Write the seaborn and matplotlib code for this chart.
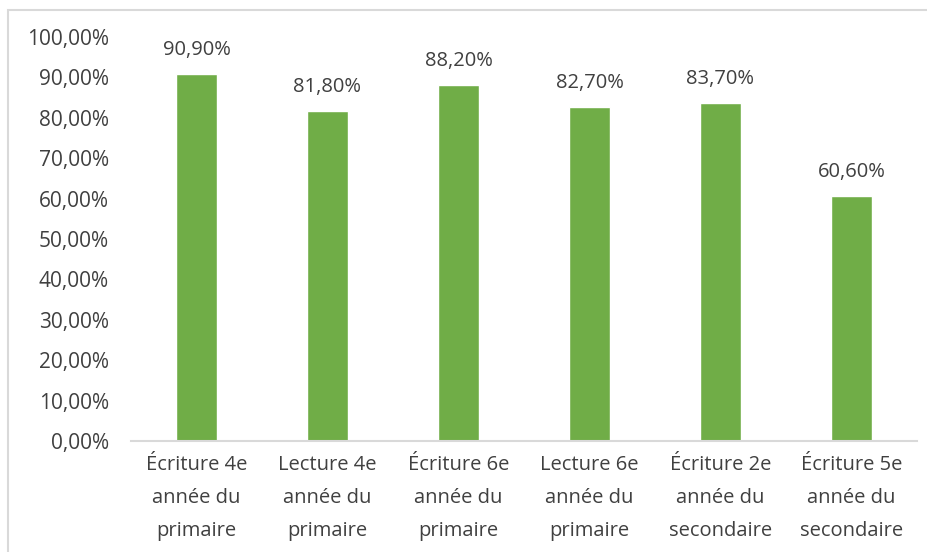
import matplotlib
matplotlib.use("Agg")
import matplotlib.pyplot as plt
import pandas as pd
import seaborn as sns
from matplotlib.patches import Rectangle
from matplotlib.ticker import FuncFormatter

categories = [
    "Écriture 4e\nannée du\nprimaire",
    "Lecture 4e\nannée du\nprimaire",
    "Écriture 6e\nannée du\nprimaire",
    "Lecture 6e\nannée du\nprimaire",
    "Écriture 2e\nannée du\nsecondaire",
    "Écriture 5e\nannée du\nsecondaire",
]
values = [0.909, 0.818, 0.882, 0.827, 0.837, 0.606]
yticks = [0.0, 0.1, 0.2, 0.3, 0.4, 0.5, 0.6, 0.7, 0.8, 0.9, 1.0]

BAR_COLOR = "#70AD47"
TEXT_COLOR = "#404040"
LINE_COLOR = "#D9D9D9"


def pct(v, _=None):
    return f"{v * 100:.2f}".replace(".", ",") + "%"


def main():
    sns.set_theme(style="white")
    plt.rcParams["font.family"] = ["Open Sans", "DejaVu Sans"]

    df = pd.DataFrame({"cat": categories, "val": values})
    fig = plt.figure(figsize=(9.28, 5.52), dpi=100)
    ax = fig.add_axes([131 / 928, 1 - 441 / 552, 786 / 928, 404 / 552])

    sns.barplot(data=df, x="cat", y="val", color=BAR_COLOR, width=0.32,
                saturation=1, ax=ax)
    ax.bar_label(ax.containers[0], labels=[pct(v) for v in values],
                 padding=10, fontsize=14.5, color=TEXT_COLOR)

    ax.set_ylim(0, 1)
    ax.set_yticks(yticks)
    ax.yaxis.set_major_formatter(FuncFormatter(pct))
    ax.set_xlim(-0.5, len(categories) - 0.5)
    ax.set_xlabel(""); ax.set_ylabel("")
    ax.tick_params(axis="y", length=0, pad=16, labelsize=15, labelcolor=TEXT_COLOR)
    ax.tick_params(axis="x", length=0, pad=10, labelsize=14.5, labelcolor=TEXT_COLOR)
    for lab in ax.get_xticklabels():
        lab.set_linespacing(1.87)

    for side in ["left", "right", "top"]:
        ax.spines[side].set_visible(False)
    ax.spines["bottom"].set_color(LINE_COLOR)
    ax.spines["bottom"].set_linewidth(1.5)

    # light chart border, cropped at right and bottom like the original
    fig.add_artist(Rectangle((8 / 928, -0.1), 2, 1.1 - 10 / 552,
                             transform=fig.transFigure, fill=False,
                             ec=LINE_COLOR, lw=1.5))

    fig.savefig("out.png", dpi=100)
    plt.close(fig)


if __name__ == "__main__":
    main()
